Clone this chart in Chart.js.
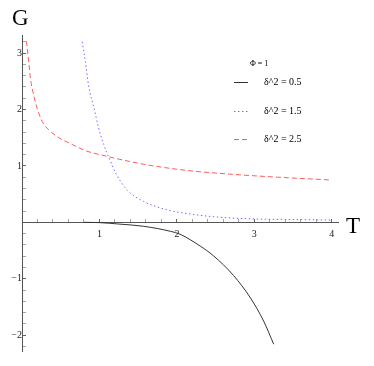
<!DOCTYPE html>
<html>
<head>
<meta charset="utf-8">
<script src="https://cdn.jsdelivr.net/npm/chart.js@4/dist/chart.umd.min.js"></script>
<style>
    html, body { margin: 0; padding: 0; background: #fff; }
    #wrap { width: 374px; height: 366px; }
</style>
</head>
<body>
<div id="wrap"><canvas id="gChart" width="374" height="366"></canvas></div>
<script>
// values
const legendTitle = 'Φ = 1';
const seriesLabels = ['δ^2 = 0.5', 'δ^2 = 1.5', 'δ^2 = 2.5'];

const tBlack = [0.8, 1.0, 1.25, 1.57, 1.92, 2.04, 2.3, 2.47, 2.73, 2.95, 3.12, 3.25];
const gBlack = [0.0, -0.005, -0.03, -0.07, -0.16, -0.21, -0.42, -0.59, -0.94, -1.34, -1.75, -2.16];

const tBlue = [0.777, 0.82, 0.86, 0.93, 0.99, 1.055, 1.14, 1.21, 1.36, 1.57, 1.88, 2.21, 2.56, 3.0, 3.5, 4.0];
const gBlue = [3.2, 2.83, 2.42, 2.02, 1.67, 1.38, 1.09, 0.87, 0.57, 0.37, 0.22, 0.14, 0.09, 0.06, 0.05, 0.04];

const tRed = [0.058, 0.088, 0.11, 0.152, 0.196, 0.26, 0.346, 0.475, 0.648, 0.82, 1.035, 1.57, 2.13, 2.73, 3.3, 4.0];
const gRed = [3.21, 2.83, 2.54, 2.25, 2.02, 1.79, 1.64, 1.5, 1.38, 1.27, 1.19, 1.03, 0.92, 0.85, 0.8, 0.75];

const xTickLabels = [1, 2, 3, 4];
const yTickLabels = [-2, -1, 1, 2, 3];

const toPoints = (ts, gs) => ts.map((t, i) => ({ x: t, y: gs[i] }));
const isLabelled = (v, list) => list.some(l => Math.abs(l - v) < 1e-6);
const fmt = v => (v < 0 ? '\u2212' + Math.abs(v) : String(v));

// minor ticks every 0.2, no tick at the origin
function minorTicks(from, to) {
    const out = [];
    for (let i = Math.ceil(from * 5); i <= Math.floor(to * 5); i++) {
        if (i !== 0) out.push({ value: i / 5 });
    }
    return out;
}

const styles = [
    { color: '#333333', dash: [] },
    { color: 'rgb(110,110,255)', dash: [1.5, 2.5] },
    { color: 'rgb(255,90,90)', dash: [5, 3] }
];

// axis letters + legend drawn on the canvas
const extras = {
    id: 'extras',
    afterDraw(chart) {
        const ctx = chart.ctx;
        ctx.save();
        ctx.fillStyle = '#000';
        ctx.textBaseline = 'alphabetic';
        ctx.font = '23px "Liberation Serif"';
        ctx.textAlign = 'left';
        ctx.fillText('G', 12, 25);
        ctx.fillText('T', 346, 233);

        ctx.font = '8px "Liberation Serif"';
        ctx.textBaseline = 'middle';
        ctx.fillText(legendTitle, 250, 64);

        const rows = [82, 111, 139];
        ctx.font = '10px "Liberation Serif"';
        chart.data.datasets.forEach((ds, i) => {
            ctx.strokeStyle = ds.borderColor;
            ctx.lineWidth = 1;
            ctx.setLineDash(ds.borderDash || []);
            ctx.beginPath();
            ctx.moveTo(234, rows[i] + 0.5);
            ctx.lineTo(248, rows[i] + 0.5);
            ctx.stroke();
            ctx.setLineDash([]);
            ctx.fillStyle = '#000';
            ctx.fillText(ds.label, 264, rows[i]);
        });
        ctx.restore();
    }
};

const ctx = document.getElementById('gChart').getContext('2d');
new Chart(ctx, {
    type: 'line',
    data: {
        datasets: [
            { label: seriesLabels[0], data: toPoints(tBlack, gBlack) },
            { label: seriesLabels[1], data: toPoints(tBlue, gBlue) },
            { label: seriesLabels[2], data: toPoints(tRed, gRed) }
        ].map((ds, i) => Object.assign(ds, {
            borderColor: styles[i].color,
            borderDash: styles[i].dash,
            borderWidth: 1,
            pointRadius: 0,
            fill: false,
            cubicInterpolationMode: 'monotone'
        }))
    },
    options: {
        responsive: false,
        animation: false,
        layout: { padding: { left: 22, right: 36, top: 35, bottom: 9 } },
        plugins: { legend: { display: false }, tooltip: { enabled: false } },
        scales: {
            x: {
                type: 'linear',
                min: 0,
                max: 4.08,
                position: { y: 0 },
                afterBuildTicks: s => { s.ticks = minorTicks(0, 4.08); },
                border: { display: true, color: '#555', width: 1 },
                grid: {
                    drawOnChartArea: false,
                    drawTicks: true,
                    tickLength: -4,
                    tickColor: '#666',
                    tickWidth: c => (isLabelled(c.tick.value, xTickLabels) ? 1 : 0.6)
                },
                ticks: {
                    autoSkip: false,
                    maxRotation: 0,
                    padding: 10,
                    color: '#222',
                    font: { family: 'Liberation Serif', size: 10 },
                    callback: v => (isLabelled(v, xTickLabels) ? fmt(Math.round(v)) : '')
                }
            },
            y: {
                type: 'linear',
                min: -2.28,
                max: 3.32,
                position: { x: 0 },
                afterBuildTicks: s => { s.ticks = minorTicks(-2.28, 3.32); },
                border: { display: true, color: '#555', width: 1 },
                grid: {
                    drawOnChartArea: false,
                    drawTicks: true,
                    tickLength: -4,
                    tickColor: '#666',
                    tickWidth: c => (isLabelled(c.tick.value, yTickLabels) ? 1 : 0.6)
                },
                ticks: {
                    autoSkip: false,
                    padding: 9,
                    color: '#222',
                    font: { family: 'Liberation Serif', size: 10 },
                    callback: v => (isLabelled(v, yTickLabels) ? fmt(Math.round(v)) : '')
                }
            }
        }
    },
    plugins: [extras]
});
</script>
</body>
</html>
